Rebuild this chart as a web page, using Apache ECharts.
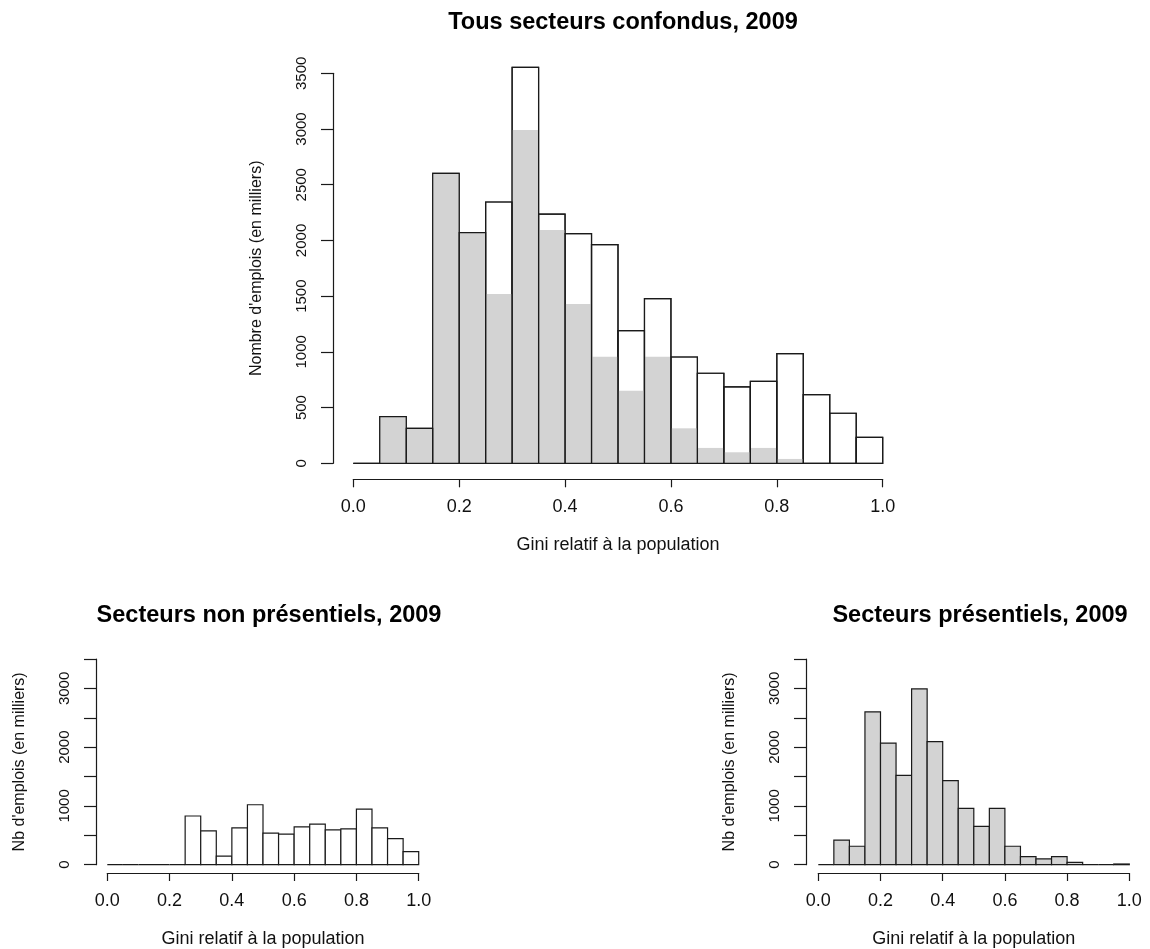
<!DOCTYPE html>
<html>
<head>
<meta charset="utf-8">
<script src="https://cdn.jsdelivr.net/npm/echarts@6/dist/echarts.min.js"></script>
<style>
html,body{margin:0;padding:0;background:#fff;}
#chart{width:1150px;height:949px;}
</style>
</head>
<body>
<div id="chart"></div>
<script>
// Bin edges (Gini relatif à la population)
var binStarts = [0.00,0.05,0.10,0.15,0.20,0.25,0.30,0.35,0.40,0.45,0.50,0.55,0.60,0.65,0.70,0.75,0.80,0.85,0.90,0.95];
var binEnds   = [0.05,0.10,0.15,0.20,0.25,0.30,0.35,0.40,0.45,0.50,0.55,0.60,0.65,0.70,0.75,0.80,0.85,0.90,0.95,1.00];
// Nombre d'emplois (en milliers)
var totalCounts       = [0,419,314,2602,2070,2345,3554,2237,2061,1962,1191,1478,954,808,685,736,984,616,449,233];
var presentielCounts  = [0,419,314,2602,2070,1519,2991,2094,1430,957,652,957,314,138,99,138,39,0,0,12];
var nonPresentielCounts = [0,0,0,0,0,829,577,146,627,1020,538,521,644,689,594,611,947,627,443,224];

var titles = ['Tous secteurs confondus, 2009','Secteurs non présentiels, 2009','Secteurs présentiels, 2009'];
var xName = 'Gini relatif à la population';
var yNameTop = "Nombre d'emplois (en milliers)";
var yNameBottom = "Nb d'emplois (en milliers)";

function rows(counts){
  return counts.map(function(v,i){ return [binStarts[i], binEnds[i], v]; });
}

var INK = '#1a1a1a';
var GRAY = '#d3d3d3';
var FONT = 'Liberation Sans, Arial, sans-serif';

function barRenderer(fill, stroke, lw){
  return function(params, api){
    var p0 = api.coord([api.value(0), api.value(2)]);
    var p1 = api.coord([api.value(1), 0]);
    return {
      type:'rect',
      shape:{x:p0[0], y:p0[1], width:p1[0]-p0[0], height:p1[1]-p0[1]},
      style:{fill:fill, stroke:stroke, lineWidth:lw}
    };
  };
}

function xAxisDef(gi, offset){
  return {
    type:'value', gridIndex:gi, min:0, max:1, interval:0.2, offset:offset,
    axisLine:{show:true, onZero:false, lineStyle:{color:INK, width:1.2}},
    axisTick:{show:true, length:8, lineStyle:{color:INK, width:1.2}},
    axisLabel:{margin:19, fontSize:18, color:'#111', fontFamily:FONT,
      formatter:function(v){ return v.toFixed(1); }},
    splitLine:{show:false},
    name:xName, nameLocation:'middle', nameGap:57,
    nameTextStyle:{fontSize:18, color:'#111', fontFamily:FONT}
  };
}
function yAxisDef(gi, offset, name, onlyThousands){
  return {
    type:'value', gridIndex:gi, min:0, max:3500, interval:500, offset:offset,
    axisLine:{show:true, onZero:false, lineStyle:{color:INK, width:1.2}},
    axisTick:{show:true, length:12, lineStyle:{color:INK, width:1.2}},
    axisLabel:{rotate:90, margin:24, fontSize:15, color:'#111', fontFamily:FONT,
      formatter:function(v){ return (onlyThousands && v % 1000 !== 0) ? '' : String(v); }},
    splitLine:{show:false},
    name:name, nameLocation:'middle', nameGap:68,
    nameTextStyle:{fontSize:16, color:'#111', fontFamily:FONT}
  };
}

var titleStyle = {fontSize:23.5, fontWeight:'bold', color:'#000', fontFamily:FONT};

var option = {
  backgroundColor:'#fff',
  animation:false,
  title:[
    {text:titles[0], left:618, top:6, textAlign:'center', textStyle:titleStyle},
    {text:titles[1], left:264, top:599, textAlign:'center', textStyle:titleStyle},
    {text:titles[2], left:975, top:599, textAlign:'center', textStyle:titleStyle}
  ],
  grid:[
    {left:353.3, right:267.3, top:73.3, bottom:485.7},
    {left:107.3, right:731.3, top:659, bottom:82.3},
    {left:818.3, right:20.7, top:659, bottom:82.3}
  ],
  xAxis:[ xAxisDef(0,16), xAxisDef(1,8.3), xAxisDef(2,8.3) ],
  yAxis:[ yAxisDef(0,20.3,yNameTop,false), yAxisDef(1,11.3,yNameBottom,true), yAxisDef(2,12.3,yNameBottom,true) ],
  series:[
    {type:'custom', xAxisIndex:0, yAxisIndex:0, data:rows(totalCounts),
     encode:{x:[0,1], y:2}, renderItem:barRenderer('#fff', INK, 1.2)},
    {type:'custom', xAxisIndex:0, yAxisIndex:0, data:rows(presentielCounts),
     encode:{x:[0,1], y:2}, renderItem:barRenderer(GRAY, null, 0)},
    {type:'custom', xAxisIndex:0, yAxisIndex:0, data:rows(totalCounts),
     encode:{x:[0,1], y:2}, renderItem:barRenderer('none', INK, 1.2)},
    {type:'custom', xAxisIndex:1, yAxisIndex:1, data:rows(nonPresentielCounts),
     encode:{x:[0,1], y:2}, renderItem:barRenderer('#fff', INK, 1.2)},
    {type:'custom', xAxisIndex:2, yAxisIndex:2, data:rows(presentielCounts),
     encode:{x:[0,1], y:2}, renderItem:barRenderer(GRAY, INK, 1.2)}
  ]
};

var chart = echarts.init(document.getElementById('chart'), null, {renderer:'canvas'});
chart.setOption(option);
</script>
</body>
</html>
